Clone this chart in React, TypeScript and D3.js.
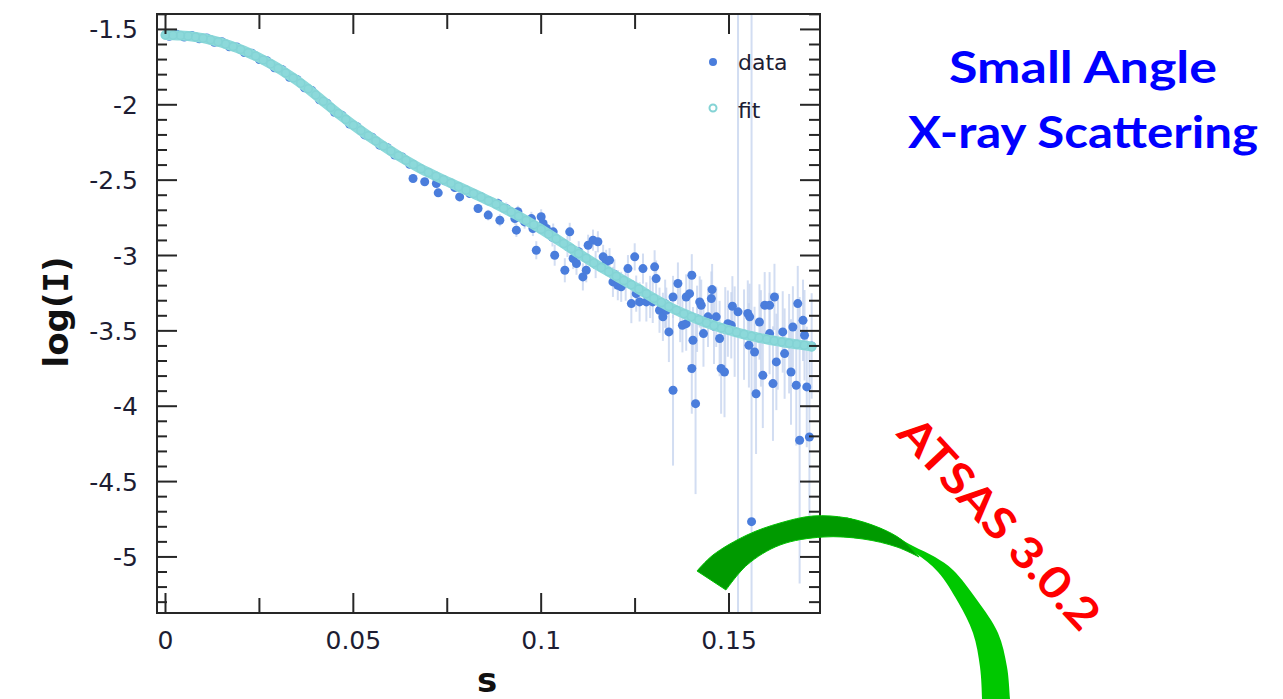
import React from "react";
import * as d3 from "d3";

const W = 1283;
const H = 699;

// fitted curve, log(I) vs s
const fitS = [
  0, 0.002, 0.004, 0.006, 0.008, 0.01, 0.012, 0.014, 0.016, 0.018, 0.02, 0.022,
  0.024, 0.026, 0.028, 0.03, 0.032, 0.034, 0.036, 0.038, 0.04, 0.042, 0.044,
  0.046, 0.048, 0.05, 0.052, 0.054, 0.056, 0.058, 0.06, 0.062, 0.064, 0.066,
  0.068, 0.07, 0.072, 0.074, 0.076, 0.078, 0.08, 0.082, 0.084, 0.086, 0.088,
  0.09, 0.092, 0.094, 0.096, 0.098, 0.1, 0.102, 0.104, 0.106, 0.108, 0.11,
  0.112, 0.114, 0.116, 0.118, 0.12, 0.122, 0.124, 0.126, 0.128, 0.13, 0.132,
  0.134, 0.136, 0.138, 0.14, 0.142, 0.144, 0.146, 0.148, 0.15, 0.152, 0.154,
  0.156, 0.158, 0.16, 0.162, 0.164, 0.166, 0.168, 0.17, 0.172,
];
const fitLogI = [
  -1.537, -1.538, -1.54, -1.544, -1.55, -1.558, -1.569, -1.582, -1.597, -1.614,
  -1.633, -1.654, -1.677, -1.702, -1.729, -1.758, -1.789, -1.822, -1.857,
  -1.894, -1.935, -1.977, -2.018, -2.058, -2.097, -2.135, -2.171, -2.206, -2.24,
  -2.274, -2.307, -2.338, -2.368, -2.397, -2.425, -2.45, -2.474, -2.497, -2.52,
  -2.543, -2.566, -2.589, -2.612, -2.636, -2.66, -2.686, -2.712, -2.739, -2.767,
  -2.796, -2.826, -2.857, -2.889, -2.921, -2.954, -2.987, -3.018, -3.049,
  -3.079, -3.108, -3.137, -3.166, -3.194, -3.223, -3.254, -3.284, -3.312,
  -3.339, -3.363, -3.386, -3.407, -3.427, -3.447, -3.465, -3.481, -3.496, -3.51,
  -3.523, -3.535, -3.546, -3.556, -3.565, -3.574, -3.582, -3.589, -3.596, -3.605,
];

// measured points: s, log(I), error
const sData = [
  0.001, 0.003, 0.005, 0.007, 0.009, 0.011, 0.013, 0.015, 0.017, 0.019, 0.021,
  0.023, 0.025, 0.027, 0.029, 0.031, 0.033, 0.035, 0.037, 0.039, 0.041, 0.043,
  0.045, 0.047, 0.049, 0.051, 0.053, 0.055, 0.057, 0.059, 0.061, 0.063, 0.065,
  0.0659, 0.069, 0.0721, 0.0726, 0.0743, 0.077, 0.0783, 0.081, 0.0832, 0.0841,
  0.0859, 0.0885, 0.089, 0.0907, 0.093, 0.0934, 0.0938, 0.0956, 0.0974, 0.0978,
  0.0987, 0.1, 0.1005, 0.1014, 0.103, 0.1032, 0.1036, 0.1063, 0.107, 0.1076,
  0.1085, 0.1094, 0.11, 0.1111, 0.112, 0.1125, 0.1138, 0.1145, 0.1151, 0.1165,
  0.1173, 0.1182, 0.1191, 0.1195, 0.1204, 0.1213, 0.1225, 0.1231, 0.124, 0.1249,
  0.1253, 0.1262, 0.1271, 0.128, 0.129, 0.1297, 0.1302, 0.1306, 0.1315, 0.1324,
  0.133, 0.1333, 0.134, 0.1351, 0.1351, 0.1364, 0.137, 0.1376, 0.1386, 0.1386,
  0.1395, 0.1401, 0.1401, 0.1404, 0.1411, 0.1415, 0.1422, 0.1426, 0.1432,
  0.1444, 0.1453, 0.1455, 0.146, 0.1466, 0.1475, 0.1479, 0.1488, 0.149, 0.1497,
  0.1506, 0.1509, 0.1515, 0.1524, 0.154, 0.155, 0.1553, 0.1555, 0.156, 0.1568,
  0.1572, 0.1581, 0.1585, 0.159, 0.1595, 0.1608, 0.1608, 0.1617, 0.1621, 0.1626,
  0.163, 0.1643, 0.1648, 0.166, 0.1665, 0.167, 0.1679, 0.1683, 0.1688, 0.1697,
  0.1701, 0.1707, 0.1714, 0.172,
];
const logI = [
  -1.545, -1.532, -1.55, -1.54, -1.562, -1.557, -1.585, -1.582, -1.615, -1.616,
  -1.653, -1.658, -1.7, -1.707, -1.755, -1.766, -1.817, -1.832, -1.887, -1.906,
  -1.967, -1.99, -2.05, -2.07, -2.128, -2.146, -2.2, -2.215, -2.268, -2.283,
  -2.333, -2.346, -2.395, -2.489, -2.511, -2.522, -2.584, -2.504, -2.549, -2.611,
  -2.589, -2.688, -2.611, -2.732, -2.655, -2.766, -2.688, -2.755, -2.832, -2.71,
  -2.777, -2.755, -2.821, -2.965, -2.743, -2.788, -2.821, -2.88, -2.843, -2.998,
  -3.098, -2.94, -2.843, -3.02, -3.053, -2.975, -3.142, -3.098, -2.932, -2.898,
  -3.06, -2.909, -3.009, -3.042, -3.031, -3.175, -3.125, -3.197, -3.208, -3.18,
  -3.087, -3.319, -3.009, -3.253, -3.308, -3.087, -3.308, -3.275, -3.308, -3.075,
  -3.153, -3.363, -3.407, -3.32, -3.363, -3.507, -3.275, -3.894, -3.186, -3.375,
  -3.463, -3.275, -3.452, -3.253, -3.131, -3.75, -3.562, -3.983, -3.42, -3.308,
  -3.33, -3.518, -3.407, -3.286, -3.226, -3.47, -3.407, -3.551, -3.75, -3.773,
  -3.49, -3.452, -3.463, -3.337, -3.505, -3.374, -3.525, -3.385, -3.596, -3.407,
  -4.766, -3.64, -3.917, -3.441, -3.55, -3.795, -3.33, -3.33, -3.518, -3.85,
  -3.275, -3.706, -3.57, -3.507, -3.651, -3.585, -3.773, -3.474, -3.861, -3.319,
  -4.226, -3.43, -3.529, -3.872, -4.204, -3.6,
];
const errLogI = [
  0.01, 0.01, 0.01, 0.01, 0.01, 0.01, 0.01, 0.01, 0.01, 0.01, 0.01, 0.012,
  0.012, 0.012, 0.012, 0.013, 0.013, 0.014, 0.014, 0.015, 0.015, 0.016, 0.016,
  0.017, 0.017, 0.018, 0.018, 0.019, 0.019, 0.02, 0.02, 0.02, 0.02, 0.02, 0.02,
  0.02, 0.025, 0.02, 0.025, 0.025, 0.03, 0.03, 0.03, 0.035, 0.035, 0.04, 0.04,
  0.04, 0.045, 0.04, 0.045, 0.045, 0.05, 0.06, 0.05, 0.05, 0.05, 0.06, 0.055,
  0.07, 0.08, 0.07, 0.06, 0.07, 0.075, 0.07, 0.09, 0.08, 0.07, 0.07, 0.09, 0.07,
  0.08, 0.08, 0.08, 0.1, 0.1, 0.1, 0.1, 0.12, 0.09, 0.13, 0.09, 0.12, 0.13, 0.1,
  0.13, 0.14, 0.14, 0.11, 0.12, 0.15, 0.16, 0.16, 0.15, 0.2, 0.14, 0.5, 0.14,
  0.2, 0.18, 0.15, 0.18, 0.15, 0.14, 0.3, 0.22, 0.6, 0.22, 0.17, 0.17, 0.22, 0.2,
  0.18, 0.17, 0.25, 0.2, 0.25, 0.3, 0.3, 0.28, 0.22, 0.22, 0.2, 0.3, 3.0, 0.3,
  0.22, 0.28, 0.22, 3.5, 0.3, 0.4, 0.25, 0.32, 0.35, 0.22, 0.22, 0.27, 0.38,
  0.22, 0.32, 0.32, 0.27, 0.3, 0.33, 0.35, 0.27, 0.4, 0.25, 0.95, 0.27, 0.3, 0.4,
  0.6, 0.35,
];

const yMajorTicks = [-1.5, -2, -2.5, -3, -3.5, -4, -4.5, -5];
const yTickLabels = ["-1.5", "-2", "-2.5", "-3", "-3.5", "-4", "-4.5", "-5"];
const xMajorTicks = [0, 0.05, 0.1, 0.15];
const xTickLabels = ["0", "0.05", "0.1", "0.15"];
const xMinorTicks = [0.025, 0.075, 0.125];

const legendItems = ["data", "fit"];

// green swoosh outline (decoration, pixel space)
const swooshDarkOuter: [number, number][] = [
  [697, 571], [713, 555], [747, 535], [780, 523], [813, 516], [847, 518],
  [880, 528], [902, 540], [919, 557],
];
const swooshDarkInner: [number, number][] = [
  [919, 557], [897, 547], [863, 539], [823, 537], [780, 545], [747, 565],
  [726, 590],
];
const swooshBrightOuter: [number, number][] = [
  [845, 517], [880, 528], [913, 546], [935, 557], [953, 570], [977, 600],
  [998, 633], [1007, 667], [1010, 699], [1011, 712],
];
const swooshBrightInner: [number, number][] = [
  [982, 712], [982, 699], [980, 667], [973, 633], [958, 602], [938, 572],
  [915, 553], [880, 535], [845, 517],
];

const App = () => {
  const left = 157;
  const right = 820;
  const top = 14;
  const bottom = 613;

  const x = d3.scaleLinear().domain([-0.00226, 0.17422]).range([left, right]);
  const y = d3.scaleLinear().domain([-1.3976, -5.372]).range([top, bottom]);

  const yMinorTicks = d3
    .range(-14, -54, -1)
    .map((d) => d / 10)
    .filter((d) => !yMajorTicks.some((m) => Math.abs(m - d) < 1e-6));

  const fitLine = d3
    .line<number>()
    .x((d, i) => x(fitS[i]))
    .y((d) => y(d))
    .curve(d3.curveCatmullRom);

  const edge = d3.line().curve(d3.curveCatmullRom);
  const swoosh = (outer: [number, number][], inner: [number, number][]) =>
    edge(outer) + "L" + (edge(inner) as string).slice(1) + "Z";

  const tickFont = "'DejaVu Sans', Verdana, sans-serif";
  const labelColor = "#1d1d33";
  const axisColor = "#262626";

  return (
    <svg
      width={W}
      height={H}
      style={{ position: "absolute", left: 0, top: 0, background: "#fff" }}
    >
      <defs>
        <clipPath id="plot-area">
          <rect x={left} y={top} width={right - left} height={bottom - top} />
        </clipPath>
      </defs>

      {/* error bars and data */}
      <g clipPath="url(#plot-area)">
        {sData.map((s, i) => (
          <line
            key={"e" + i}
            x1={x(s)}
            x2={x(s)}
            y1={y(logI[i] + errLogI[i])}
            y2={y(logI[i] - errLogI[i])}
            stroke="#c3d1ee"
            strokeWidth={2}
            strokeOpacity={0.75}
          />
        ))}
        {sData.map((s, i) => (
          <circle key={"d" + i} cx={x(s)} cy={y(logI[i])} r={4.5} fill="#4a7ddc" />
        ))}
        <path
          d={fitLine(fitLogI) as string}
          fill="none"
          stroke="#8cd9da"
          strokeWidth={10}
          strokeLinecap="round"
          strokeLinejoin="round"
        />
        {fitS.map((s, i) => (
          <circle
            key={"f" + i}
            cx={x(s)}
            cy={y(fitLogI[i])}
            r={4}
            fill="none"
            stroke="#84d3d5"
            strokeWidth={1.5}
          />
        ))}
      </g>

      {/* frame and ticks */}
      <rect
        x={left}
        y={top}
        width={right - left}
        height={bottom - top}
        fill="none"
        stroke={axisColor}
        strokeWidth={2}
      />
      {yMajorTicks.map((t) => (
        <g key={"ym" + t} stroke={axisColor} strokeWidth={2}>
          <line x1={left} x2={left + 20} y1={y(t)} y2={y(t)} />
          <line x1={right} x2={right - 20} y1={y(t)} y2={y(t)} />
        </g>
      ))}
      {yMinorTicks.map((t) => (
        <g key={"yn" + t} stroke={axisColor} strokeWidth={2}>
          <line x1={left} x2={left + 10} y1={y(t)} y2={y(t)} />
          <line x1={right} x2={right - 11} y1={y(t)} y2={y(t)} />
        </g>
      ))}
      {xMajorTicks.map((t) => (
        <g key={"xm" + t} stroke={axisColor} strokeWidth={2}>
          <line x1={x(t)} x2={x(t)} y1={bottom} y2={bottom - 20} />
          <line x1={x(t)} x2={x(t)} y1={top} y2={top + 20} />
        </g>
      ))}
      {xMinorTicks.map((t) => (
        <g key={"xn" + t} stroke={axisColor} strokeWidth={2}>
          <line x1={x(t)} x2={x(t)} y1={bottom} y2={bottom - 15} />
          <line x1={x(t)} x2={x(t)} y1={top} y2={top + 15} />
        </g>
      ))}

      {/* tick labels */}
      {yMajorTicks.map((t, i) => (
        <text
          key={"yl" + t}
          x={138}
          y={y(t)}
          dy="0.36em"
          textAnchor="end"
          fontFamily={tickFont}
          fontSize={25}
          fill={labelColor}
        >
          {yTickLabels[i]}
        </text>
      ))}
      {xMajorTicks.map((t, i) => (
        <text
          key={"xl" + t}
          x={x(t)}
          y={649}
          textAnchor="middle"
          fontFamily={tickFont}
          fontSize={25}
          fill={labelColor}
        >
          {xTickLabels[i]}
        </text>
      ))}

      {/* axis titles */}
      <text
        transform="translate(68,312) rotate(-90)"
        textAnchor="middle"
        fontFamily={tickFont}
        fontWeight="bold"
        fontSize={34}
        fill="#111"
      >
        log(<tspan fontFamily="'DejaVu Sans Mono', monospace">I</tspan>)
      </text>
      <text
        x={487}
        y={692}
        textAnchor="middle"
        fontFamily={tickFont}
        fontWeight="bold"
        fontSize={34}
        fill="#111"
      >
        s
      </text>

      {/* legend */}
      <circle cx={713} cy={62} r={4} fill="#4a7ddc" />
      <circle cx={713} cy={108} r={3.5} fill="none" stroke="#84d3d5" strokeWidth={2} />
      {legendItems.map((name, i) => (
        <text
          key={name}
          x={738}
          y={70 + i * 48}
          fontFamily={tickFont}
          fontSize={22}
          fill={labelColor}
        >
          {name}
        </text>
      ))}

      {/* title */}
      <g fontFamily="Lato, 'DejaVu Sans', sans-serif" fontWeight="bold" fill="#0000ff" textAnchor="middle">
        <text x={1083} y={83} fontSize={44} textLength={268} lengthAdjust="spacingAndGlyphs">
          Small Angle
        </text>
        <text x={1083} y={148} fontSize={44} textLength={350} lengthAdjust="spacingAndGlyphs">
          X-ray Scattering
        </text>
      </g>

      {/* swoosh */}
      <path d={swoosh(swooshBrightOuter, swooshBrightInner)} fill="#00c800" />
      <path
        d={swoosh(swooshDarkOuter, swooshDarkInner)}
        fill="#009a00"
        stroke="#00c000"
        strokeWidth={1}
      />

      <text
        transform="translate(988,534) rotate(47)"
        textAnchor="middle"
        fontFamily="Lato, 'DejaVu Sans', sans-serif"
        fontWeight="bold"
        fontSize={44}
        fill="#ff0000"
        textLength={272}
        lengthAdjust="spacingAndGlyphs"
      >
        ATSAS 3.0.2
      </text>
    </svg>
  );
};

export default App;
